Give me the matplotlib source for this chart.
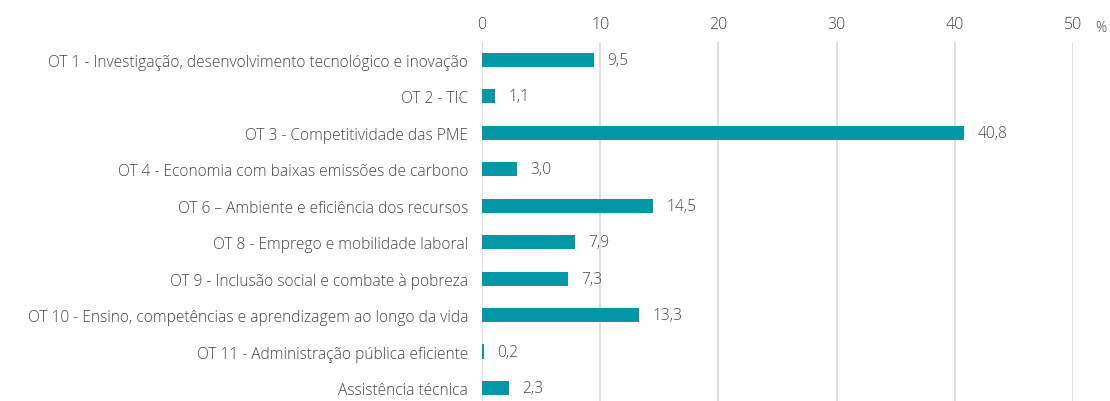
import matplotlib
matplotlib.use("Agg")
import matplotlib.pyplot as plt
from matplotlib.ticker import FixedLocator

categories = [
    "OT 1 - Investigação, desenvolvimento tecnológico e inovação",
    "OT 2 - TIC",
    "OT 3 - Competitividade das PME",
    "OT 4 - Economia com baixas emissões de carbono",
    "OT 6 – Ambiente e eficiência dos recursos",
    "OT 8 - Emprego e mobilidade laboral",
    "OT 9 - Inclusão social e combate à pobreza",
    "OT 10 - Ensino, competências e aprendizagem ao longo da vida",
    "OT 11 - Administração pública eficiente",
    "Assistência técnica",
]
values = [9.5, 1.1, 40.8, 3.0, 14.5, 7.9, 7.3, 13.3, 0.2, 2.3]
ticks = [0, 10, 20, 30, 40, 50]

plt.rcParams['font.family'] = ['Open Sans', 'DejaVu Sans']
text_color = "#444444"
bar_color = "#0097A7"
fw = 'light'

fig = plt.figure(figsize=(11.1, 4.02), dpi=100)
ax = fig.add_axes([482/1110, 0.0, (1073-482)/1110, 1 - 43/402])

y = list(range(len(categories)))
ax.barh(y, values, height=0.39, color=bar_color, zorder=3)
ax.set_xlim(0, 50)
ax.set_ylim(9.357, -0.49)

ax.xaxis.set_major_locator(FixedLocator(ticks))
ax.xaxis.tick_top()
ax.set_xticklabels([str(t) for t in ticks], fontsize=11.5, color=text_color, fontweight=fw)
ax.tick_params(axis='x', length=0, pad=7)
ax.set_yticks(y)
ax.set_yticklabels(categories, fontsize=11.2, color=text_color, fontweight=fw)
ax.tick_params(axis='y', length=0, pad=10)

ax.grid(axis='x', color='#d9d9d9', linewidth=1.2, zorder=0)
for s in ax.spines.values():
    s.set_visible(False)

for i, v in enumerate(values):
    ax.annotate(f"{v:.1f}".replace('.', ','), xy=(v, i), xytext=(9.5, 0),
                textcoords='offset points', va='center', ha='left',
                fontsize=11.2, color=text_color, fontweight=fw)

fig.text(1101/1110, 1 - 29/402, "%", fontsize=10, color=text_color,
         ha='center', va='center', fontweight=fw)

fig.savefig("out.png", dpi=100, facecolor='white')
